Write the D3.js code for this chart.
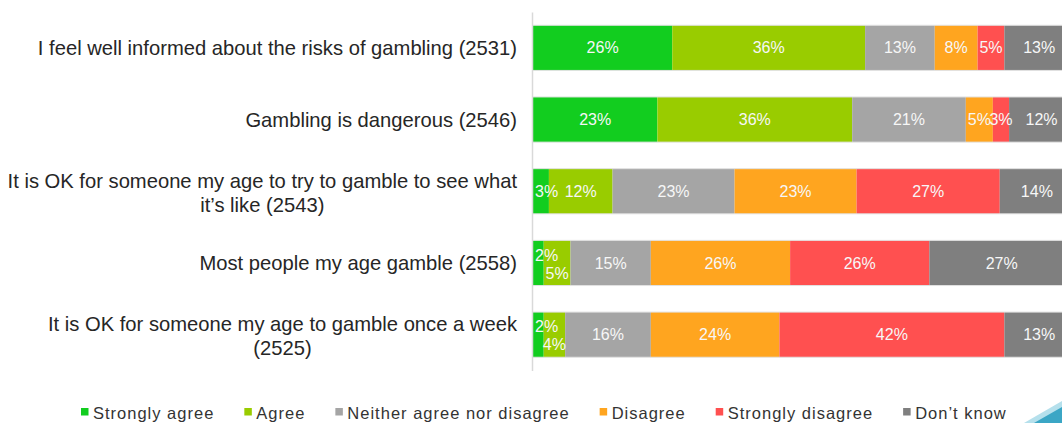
<!DOCTYPE html>
<html>
<head>
<meta charset="utf-8">
<title>Attitudes to gambling</title>
<script src="https://d3js.org/d3.v7.min.js"></script>
<style>
  body { margin: 0; background: #fff; }
  svg { display: block; font-family: "Liberation Sans", Arial, sans-serif; }
  .seg-label { fill: #f7f7f7; font-size: 16px; }
  .cat-label { fill: #262626; font-size: 20.2px; }
  .legend text { fill: #333; font-size: 16.5px; letter-spacing: 1px; }
</style>
</head>
<body>
<script>
// statements down the side ("|" marks the line break)
var statements = [
  "I feel well informed about the risks of gambling (2531)",
  "Gambling is dangerous (2546)",
  "It is OK for someone my age to try to gamble to see what|it’s like (2543)",
  "Most people my age gamble (2558)",
  "It is OK for someone my age to gamble once a week|(2525)"
];
var responses = ["Strongly agree", "Agree", "Neither agree nor disagree",
                 "Disagree", "Strongly disagree", "Don’t know"];

// percentages per response, one value per statement
var stronglyAgree    = [26, 23, 3, 2, 2];
var agree            = [36, 36, 12, 5, 4];
var neither          = [13, 21, 23, 15, 16];
var disagree         = [8, 5, 23, 26, 24];
var stronglyDisagree = [5, 3, 27, 26, 42];
var dontKnow         = [13, 12, 14, 27, 13];

var colours = ["#12cd1f", "#99cc00", "#a5a5a5", "#ffa51f", "#ff5050", "#7f7f7f"];

var series = [stronglyAgree, agree, neither, disagree, stronglyDisagree, dontKnow];
var table = statements.map(function(s, i) {
  var row = {statement: s};
  responses.forEach(function(r, j) { row[r] = series[j][i]; });
  return row;
});

var width = 1062, height = 423;

var svg = d3.select("body").append("svg")
            .attr("width", width)
            .attr("height", height);

// 100% stacked
var stacked = d3.stack().keys(responses).offset(d3.stackOffsetExpand)(table);

var x = d3.scaleLinear().domain([0, 1]).range([533, 1074]);
var y = d3.scaleBand()
          .domain(statements)
          .range([12, 370.5])
          .paddingInner(0.37)
          .paddingOuter(0.185);

var colour = d3.scaleOrdinal().domain(responses).range(colours);

var layers = svg.append("g")
  .selectAll("g")
  .data(stacked)
  .enter().append("g")
  .attr("fill", function(d) { return colour(d.key); });

layers.selectAll("rect")
  .data(function(d) { return d; })
  .enter().append("rect")
  .attr("x", function(d) { return x(d[0]); })
  .attr("y", function(d) { return y(d.data.statement); })
  .attr("width", function(d) { return x(d[1]) - x(d[0]); })
  .attr("height", y.bandwidth());

// faint outline on top and bottom of each bar
svg.append("g")
  .selectAll("line")
  .data(statements.flatMap(function(s) { return [y(s), y(s) + y.bandwidth()]; }))
  .enter().append("line")
  .attr("x1", x(0)).attr("x2", x(1))
  .attr("y1", function(d) { return d; })
  .attr("y2", function(d) { return d; })
  .attr("stroke", "#e2e2e2")
  .attr("stroke-width", 1);

// vertical axis line
var yAxis = d3.axisLeft(y).tickSize(0).tickSizeOuter(0).tickFormat("");
svg.append("g")
  .attr("transform", "translate(532,0)")
  .call(yAxis)
  .select(".domain")
  .attr("stroke", "#d9d9d9")
  .attr("stroke-width", 1.5);

// value labels, drawn above all the bars
var labelLayer = svg.append("g");
stacked.forEach(function(layer, li) {
  labelLayer.append("g")
    .selectAll("text")
    .data(layer)
    .enter().append("text")
    .attr("class", "seg-label")
    .attr("text-anchor", "middle")
    .attr("dy", "0.35em")
    .text(function(d) { return d.data[layer.key] + "%"; })
    .attr("x", function(d) {
      var cx = x((d[0] + d[1]) / 2);
      var w = this.getComputedTextLength();
      if (li === 0 && cx - w / 2 < x(d[0]) + 2) cx = x(d[0]) + 2 + w / 2;
      return cx;
    })
    .attr("y", function(d) {
      var cy = y(d.data.statement) + y.bandwidth() / 2;
      // tiny first two segments get stacked above / below each other
      var first = d.data[responses[0]], second = d.data[responses[1]];
      if (li < 2 && first < 6 && second < 6) cy += li === 0 ? -8 : 10;
      return cy;
    });
});

// category labels, right aligned, wrapped lines centred on each other
var rightEdge = 517;
statements.forEach(function(s) {
  var lines = s.split("|");
  var lineH = 23.5;
  var cy = y(s) + y.bandwidth() / 2 + (lines.length > 1 ? 1.5 : 0);
  var g = svg.append("g");
  var texts = g.selectAll("text")
    .data(lines)
    .enter().append("text")
    .attr("class", "cat-label")
    .attr("dy", "0.35em")
    .attr("y", function(d, i) { return cy + (i - (lines.length - 1) / 2) * lineH; })
    .text(function(d) { return d; });
  var maxW = d3.max(texts.nodes(), function(n) { return n.getComputedTextLength(); });
  texts.attr("text-anchor", "middle").attr("x", rightEdge - maxW / 2);
});

// legend
var legend = svg.append("g").attr("class", "legend");
var lx = 81;
responses.forEach(function(r) {
  var item = legend.append("g").attr("transform", "translate(" + lx + ",0)");
  item.append("rect")
    .attr("x", 0).attr("y", 408)
    .attr("width", 7.5).attr("height", 7.5)
    .attr("fill", colour(r));
  var t = item.append("text")
    .attr("x", 12).attr("y", 418.5)
    .text(r);
  lx += 12 + t.node().getComputedTextLength() + 30;
});

// slide corner decoration
svg.append("path")
  .attr("d", "M1024,423L1062,401L1062,423Z")
  .attr("fill", "#b5e0ec");
svg.append("path")
  .attr("d", "M1034,423L1062,407L1062,423Z")
  .attr("fill", "#3ba6c5");
</script>
</body>
</html>
